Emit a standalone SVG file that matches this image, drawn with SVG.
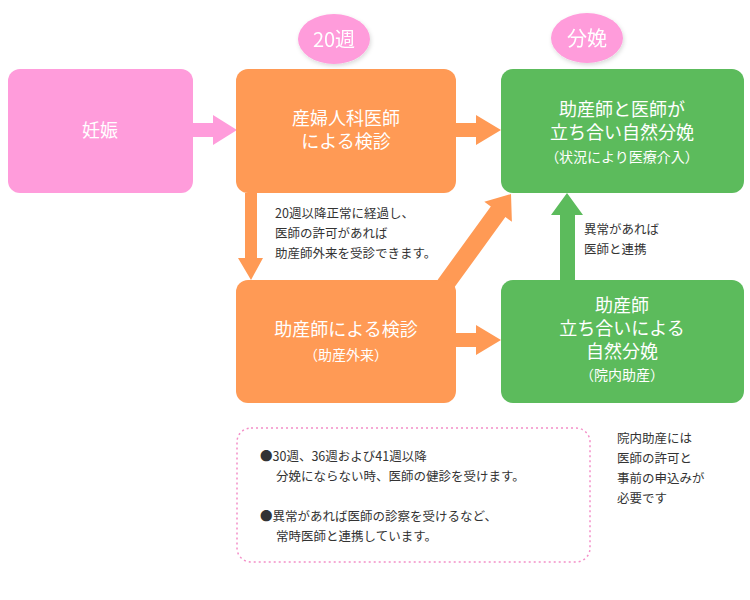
<svg xmlns="http://www.w3.org/2000/svg" width="750" height="600" viewBox="0 0 750 600">
<style>
text{font-family:"Noto Sans CJK JP","Noto Sans",sans-serif}
.w{fill:#fff;text-anchor:middle}
.d{fill:#333;font-size:12.5px}
.or{fill:#FF9A55}.gr{fill:#5CBB5C}.pk{fill:#FF9CDB}
</style>
<defs><filter id="s" x="-20%" y="-20%" width="140%" height="140%"><feDropShadow dx="1" dy="2" stdDeviation="2" flood-color="#000" flood-opacity="0.15"/></filter></defs>
<rect width="750" height="600" fill="#fff"/>
<g id="connectors">
<polygon class="pk" points="193,123 213,123 213,115 237,130 213,145 213,137 193,137"/>
<polygon class="or" points="456,123 476,123 476,115 501,130 476,145 476,137 456,137"/>
<polygon class="or" points="456,333 476,333 476,325 501,340 476,355 476,347 456,347"/>
<polygon class="or" points="245,193 257,193 257,258 263,258 251,280 238,258 245,258"/>
<polygon class="gr" points="560,280 575,280 575,215 583,215 567,193 551,215 560,215"/>
<polygon class="or" points="437.7,279.7 490.8,206.5 484.3,201.8 511,194 511.9,221.8 505.4,217.1 452.3,290.3"/>
</g>
<g id="n1"><rect x="8" y="69" width="185" height="124" rx="12" class="pk"/><text x="100" y="137" class="w" font-size="18">妊娠</text></g>
<g id="n2"><rect x="236" y="69" width="220" height="124" rx="12" class="or"/><text x="346" y="125" class="w" font-size="18">産婦人科医師</text><text x="346" y="148" class="w" font-size="18">による検診</text></g>
<g id="n3"><rect x="501" y="69" width="243" height="124" rx="12" class="gr"/><text x="622" y="116" class="w" font-size="18">助産師と医師が</text><text x="622" y="139" class="w" font-size="18">立ち合い自然分娩</text><text x="622" y="162" class="w" font-size="14">（状況により医療介入）</text></g>
<g id="n4"><rect x="236" y="280" width="220" height="123" rx="12" class="or"/><text x="346" y="336" class="w" font-size="18">助産師による検診</text><text x="346" y="360" class="w" font-size="14">（助産外来）</text></g>
<g id="n5"><rect x="501" y="280" width="243" height="123" rx="12" class="gr"/><text x="622" y="312" class="w" font-size="18">助産師</text><text x="622" y="335" class="w" font-size="18">立ち合いによる</text><text x="622" y="358" class="w" font-size="18">自然分娩</text><text x="622" y="380" class="w" font-size="14">（院内助産）</text></g>
<g id="l1" filter="url(#s)"><ellipse cx="334" cy="39" rx="36" ry="25" class="pk"/><text x="334" y="47" class="w" font-size="20">20週</text></g>
<g id="l2" filter="url(#s)"><ellipse cx="587" cy="38" rx="36" ry="25" class="pk"/><text x="587" y="46" class="w" font-size="20">分娩</text></g>
<g id="notes">
<text class="d" x="275" y="218">20週以降正常に経過し、</text>
<text class="d" x="275" y="238">医師の許可があれば</text>
<text class="d" x="275" y="258">助産師外来を受診できます。</text>
<text class="d" x="584" y="234">異常があれば</text>
<text class="d" x="584" y="254">医師と連携</text>
<rect x="237" y="428" width="353" height="134" rx="14" fill="none" stroke="#F48FC8" stroke-width="1.5" stroke-dasharray="2,3"/>
<text class="d" x="260" y="461">●30週、36週および41週以降</text>
<text class="d" x="276" y="481">分娩にならない時、医師の健診を受けます。</text>
<text class="d" x="260" y="521">●異常があれば医師の診察を受けるなど、</text>
<text class="d" x="276" y="541">常時医師と連携しています。</text>
<text class="d" x="617" y="443">院内助産には</text>
<text class="d" x="617" y="463">医師の許可と</text>
<text class="d" x="617" y="483">事前の申込みが</text>
<text class="d" x="617" y="503">必要です</text>
</g>
</svg>
